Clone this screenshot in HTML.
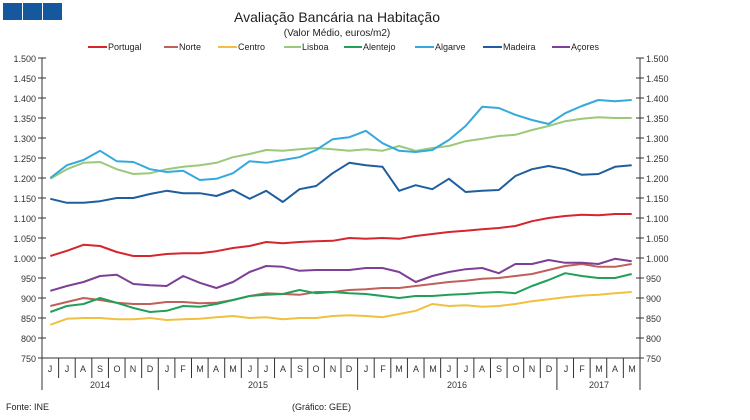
<!DOCTYPE html>
<html><head><meta charset="utf-8"><style>
body{margin:0;background:#fff;}
svg{display:block;font-family:"Liberation Sans",sans-serif;}
</style></head><body>
<svg width="750" height="420" viewBox="0 0 750 420">
<rect x="3" y="3" width="19" height="17" fill="#15589e"/><rect x="23" y="3" width="19" height="17" fill="#15589e"/><rect x="43" y="3" width="19" height="17" fill="#15589e"/>
<text x="337" y="22" font-size="14" text-anchor="middle" fill="#222">Avaliação Bancária na Habitação</text>
<text x="337" y="36" font-size="10" text-anchor="middle" fill="#222">(Valor Médio, euros/m2)</text>
<g font-size="9" fill="#222">
<line x1="88" y1="47" x2="107" y2="47" stroke="#d7262b" stroke-width="2"/><text x="108" y="50">Portugal</text>
<line x1="164" y1="47" x2="178" y2="47" stroke="#c0605a" stroke-width="2"/><text x="179" y="50">Norte</text>
<line x1="218" y1="47" x2="237" y2="47" stroke="#f0c040" stroke-width="2"/><text x="238" y="50">Centro</text>
<line x1="284" y1="47" x2="301" y2="47" stroke="#9bc97a" stroke-width="2"/><text x="302" y="50">Lisboa</text>
<line x1="344" y1="47" x2="362" y2="47" stroke="#21a05a" stroke-width="2"/><text x="363" y="50">Alentejo</text>
<line x1="415" y1="47" x2="434" y2="47" stroke="#34a9dc" stroke-width="2"/><text x="435" y="50">Algarve</text>
<line x1="483" y1="47" x2="502" y2="47" stroke="#1f5e9e" stroke-width="2"/><text x="503" y="50">Madeira</text>
<line x1="552" y1="47" x2="570" y2="47" stroke="#7e3f96" stroke-width="2"/><text x="571" y="50">Açores</text>
</g>
<g font-size="9" fill="#333">
<text x="36" y="62" text-anchor="end">1.500</text><text x="36" y="82" text-anchor="end">1.450</text><text x="36" y="102" text-anchor="end">1.400</text><text x="36" y="122" text-anchor="end">1.350</text><text x="36" y="142" text-anchor="end">1.300</text><text x="36" y="162" text-anchor="end">1.250</text><text x="36" y="182" text-anchor="end">1.200</text><text x="36" y="202" text-anchor="end">1.150</text><text x="36" y="222" text-anchor="end">1.100</text><text x="36" y="242" text-anchor="end">1.050</text><text x="36" y="262" text-anchor="end">1.000</text><text x="36" y="282" text-anchor="end">950</text><text x="36" y="302" text-anchor="end">900</text><text x="36" y="322" text-anchor="end">850</text><text x="36" y="342" text-anchor="end">800</text><text x="36" y="362" text-anchor="end">750</text>
<text x="646" y="62">1.500</text><text x="646" y="82">1.450</text><text x="646" y="102">1.400</text><text x="646" y="122">1.350</text><text x="646" y="142">1.300</text><text x="646" y="162">1.250</text><text x="646" y="182">1.200</text><text x="646" y="202">1.150</text><text x="646" y="222">1.100</text><text x="646" y="242">1.050</text><text x="646" y="262">1.000</text><text x="646" y="282">950</text><text x="646" y="302">900</text><text x="646" y="322">850</text><text x="646" y="342">800</text><text x="646" y="362">750</text>
</g>
<g id="axes" stroke="#333" stroke-width="1" fill="none"></g>
<g id="months" font-size="9" fill="#333" text-anchor="middle">
<text x="50" y="372">J</text><text x="67" y="372">J</text><text x="83" y="372">A</text><text x="100" y="372">S</text><text x="117" y="372">O</text><text x="133" y="372">N</text><text x="150" y="372">D</text><text x="167" y="372">J</text><text x="183" y="372">F</text><text x="200" y="372">M</text><text x="216" y="372">A</text><text x="233" y="372">M</text><text x="250" y="372">J</text><text x="266" y="372">J</text><text x="283" y="372">A</text><text x="300" y="372">S</text><text x="316" y="372">O</text><text x="333" y="372">N</text><text x="349" y="372">D</text><text x="366" y="372">J</text><text x="383" y="372">F</text><text x="399" y="372">M</text><text x="416" y="372">A</text><text x="433" y="372">M</text><text x="449" y="372">J</text><text x="466" y="372">J</text><text x="482" y="372">A</text><text x="499" y="372">S</text><text x="516" y="372">O</text><text x="532" y="372">N</text><text x="549" y="372">D</text><text x="566" y="372">J</text><text x="582" y="372">F</text><text x="599" y="372">M</text><text x="615" y="372">A</text><text x="632" y="372">M</text>
<text x="100" y="388">2014</text><text x="258" y="388">2015</text><text x="457" y="388">2016</text><text x="599" y="388">2017</text>
</g>
<text x="6" y="410" font-size="9" fill="#222">Fonte: INE</text>
<text x="292" y="410" font-size="9" fill="#222">(Gráfico: GEE)</text>
<g id="series" fill="none" stroke-width="2" stroke-linejoin="round"></g>
</svg>
<script>
var X0=42,W=16.61;function X(i){return X0+W*(i+0.5);}function Y(v){return 58+(1500-v)*0.4;}
var ax='';
ax+='<line x1="42" y1="58" x2="42" y2="390"/><line x1="640" y1="58" x2="640" y2="390"/><line x1="42" y1="358" x2="640" y2="358"/>';
for(var v=750;v<=1500;v+=50){ax+='<line x1="38" y1="'+Y(v)+'" x2="46" y2="'+Y(v)+'"/><line x1="636" y1="'+Y(v)+'" x2="644" y2="'+Y(v)+'"/>';}
for(var i=1;i<36;i++){var x=X0+W*i;var y2=(i==7||i==19||i==31)?390:378;ax+='<line x1="'+x+'" y1="358" x2="'+x+'" y2="'+y2+'"/>';}
document.getElementById('axes').innerHTML=ax;
var S=[
['#c0605a',[880,890,900,895,888,885,885,890,890,887,888,895,905,912,910,908,915,915,920,922,925,925,930,935,940,943,948,950,955,960,970,980,985,978,978,985]],
['#f0c040',[833,848,850,850,847,847,850,845,847,848,852,855,850,852,847,850,850,855,857,855,852,860,868,885,880,882,878,880,885,892,897,902,906,908,912,915]],
['#21a05a',[865,880,885,900,888,875,865,868,880,878,885,895,905,908,910,920,912,915,912,910,905,900,905,905,908,910,913,915,912,930,945,962,955,950,950,960]],
['#7e3f96',[918,930,940,955,958,935,932,930,955,938,925,940,965,980,978,968,970,970,970,975,975,965,940,955,965,972,975,962,985,985,995,988,988,985,998,992]],
['#d7262b',[1005,1018,1033,1030,1015,1005,1005,1010,1012,1012,1017,1025,1030,1040,1037,1040,1042,1043,1050,1048,1050,1048,1055,1060,1065,1068,1072,1075,1080,1092,1100,1105,1108,1107,1110,1110]],
['#1f5e9e',[1148,1138,1138,1142,1150,1150,1160,1168,1162,1162,1155,1170,1148,1168,1140,1172,1180,1212,1238,1232,1228,1168,1182,1172,1198,1165,1168,1170,1205,1222,1230,1222,1208,1210,1228,1232]],
['#9bc97a',[1198,1222,1238,1240,1222,1210,1212,1222,1228,1232,1238,1252,1260,1270,1268,1272,1275,1272,1268,1272,1268,1280,1268,1275,1280,1292,1298,1305,1308,1320,1330,1342,1348,1352,1350,1350]],
['#34a9dc',[1200,1232,1245,1268,1242,1240,1222,1215,1218,1195,1198,1212,1242,1238,1245,1252,1270,1297,1302,1318,1287,1268,1265,1270,1295,1330,1378,1375,1358,1345,1335,1362,1380,1395,1392,1395]]
];
var h='';S.forEach(function(s){h+='<polyline stroke="'+s[0]+'" points="'+s[1].map(function(v,i){return X(i).toFixed(1)+','+Y(v).toFixed(1);}).join(' ')+'"/>';});
document.getElementById('series').innerHTML=h;
</script>
</body></html>
